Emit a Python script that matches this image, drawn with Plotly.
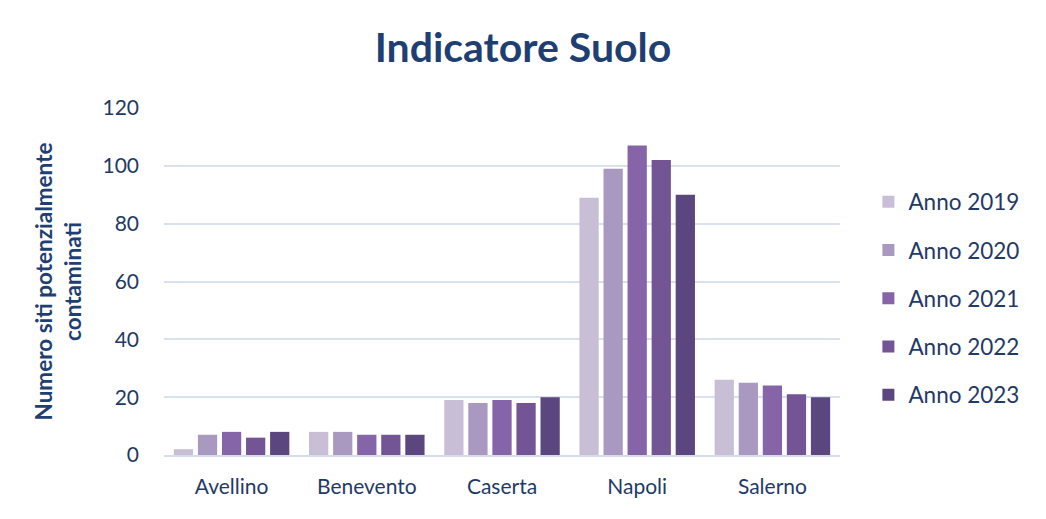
import plotly.graph_objects as go

categories = ["Avellino", "Benevento", "Caserta", "Napoli", "Salerno"]
series_names = ["Anno 2019", "Anno 2020", "Anno 2021", "Anno 2022", "Anno 2023"]
values_2019 = [2, 8, 19, 89, 26]
values_2020 = [7, 8, 18, 99, 25]
values_2021 = [8, 7, 19, 107, 24]
values_2022 = [6, 7, 18, 102, 21]
values_2023 = [8, 7, 20, 90, 20]
y_ticks = [0, 20, 40, 60, 80, 100, 120]

colors = ["#c8bfd7", "#a998c0", "#8564a8", "#735595", "#5c4680"]
series = [values_2019, values_2020, values_2021, values_2022, values_2023]

FONT = "Lato"
TXT = "#1f3a66"

fig = go.Figure()
for i, (name, vals) in enumerate(zip(series_names, series)):
    fig.add_trace(go.Bar(x=categories, y=vals, name=name,
                         marker=dict(color=colors[i], line=dict(width=0)),
                         legendgroup=name))

fig.update_layout(
    width=1046, height=519,
    margin=dict(l=164, r=206, t=108, b=64),
    paper_bgcolor="white", plot_bgcolor="white",
    barmode="group", bargap=0.11, bargroupgap=0.2,
    title=dict(text="<b>Indicatore Suolo</b>", x=0.5, xanchor="center",
               y=1 - 48 / 519, yanchor="middle",
               font=dict(family=FONT, size=41, color="#1f3f73")),
    font=dict(family=FONT, color=TXT),
    legend=dict(x=1.042, xanchor="left", xref="paper", y=0.451, yanchor="middle",
                font=dict(family=FONT, size=22.5, color=TXT),
                tracegroupgap=16, itemwidth=30, bgcolor="rgba(0,0,0,0)"),
    xaxis=dict(showgrid=False, showline=True, linecolor="#d6dce8", linewidth=1.5,
               ticks="", tickfont=dict(family=FONT, size=21, color=TXT),
               ticklabelstandoff=12),
    yaxis=dict(range=[0, 120], tickvals=y_ticks, showgrid=True, gridcolor="#d9e1ef",
               gridwidth=1.5, zeroline=False, showline=False, ticks="",
               tickfont=dict(family=FONT, size=21, color=TXT), ticklabelstandoff=24,
               title=dict(text="<b>Numero siti potenzialmente<br>contaminati</b>",
                          font=dict(family=FONT, size=22.5, color="#1f3f73"), standoff=14)),
)

fig.write_html("out.html")
